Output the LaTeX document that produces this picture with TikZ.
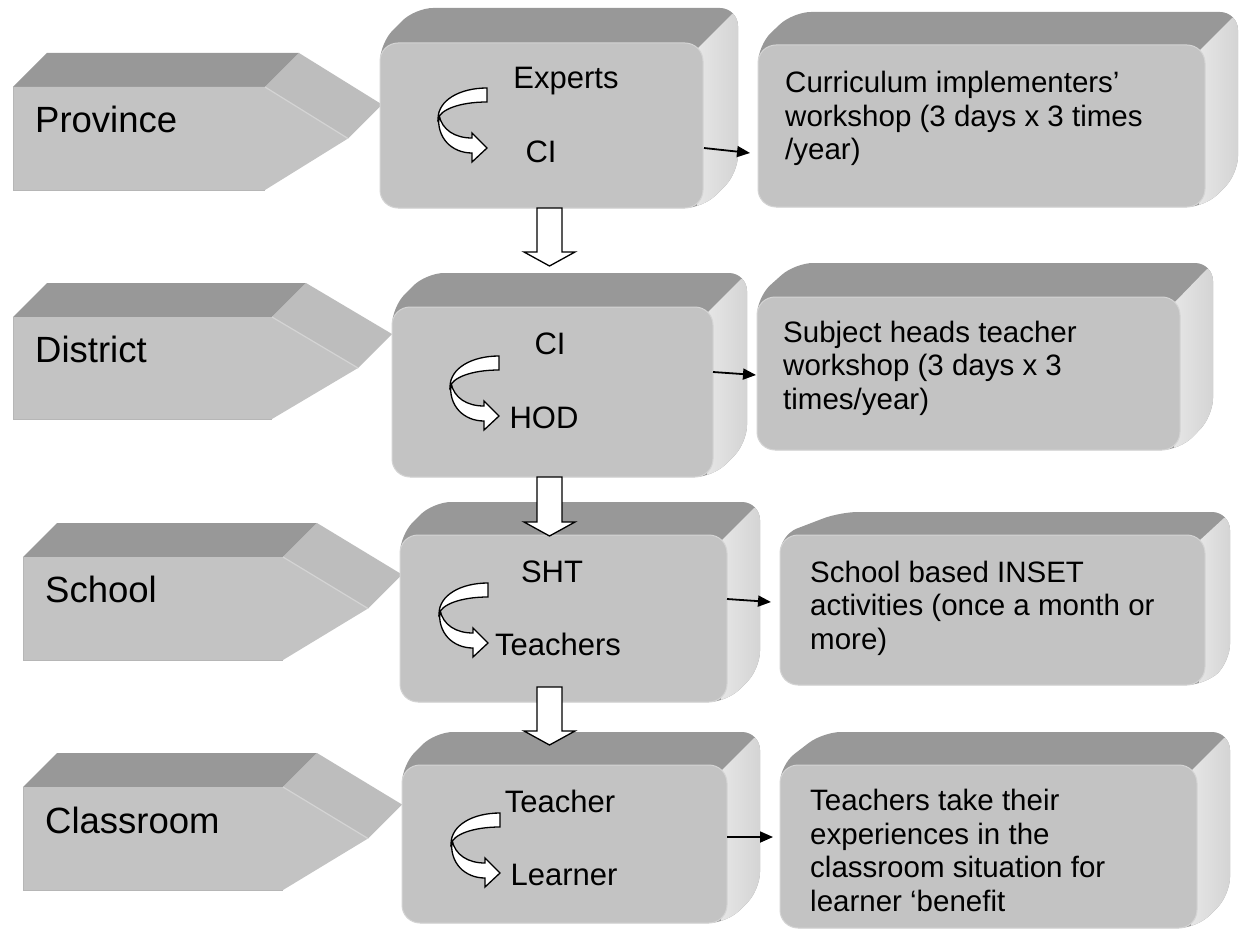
\documentclass[tikz,border=0pt]{standalone}
\usepackage{fontspec}
\setmainfont{Liberation Sans}
\usetikzlibrary{arrows.meta,calc}

\definecolor{faceGray}{RGB}{195,195,195}
\definecolor{topGray}{RGB}{152,152,152}
\definecolor{sideLight}{RGB}{230,230,230}
\definecolor{sideDark}{RGB}{210,210,210}
\definecolor{wedgeGray}{RGB}{189,189,189}
\definecolor{rimGray}{RGB}{212,212,212}
\definecolor{edgeGray}{RGB}{182,182,182}

\tikzset{
  levelname/.style={inner sep=0pt, anchor=base west, font=\fontsize{36.5}{43}\selectfont},
  rolename/.style={inner sep=0pt, anchor=base, font=\fontsize{31}{37}\selectfont},
  % multi-line notes: the base anchor sits on the last line
  notetext/.style={inner sep=0pt, anchor=base west, align=left, font=\fontsize{29.5}{33.5}\selectfont},
  linkarrow/.style={line width=1.8pt, -{Triangle[length=13pt,width=11pt]}},
  blockarr/.style={draw=black, fill=white, line width=1.3pt, line join=miter},
  turnline/.style={draw=black, fill=white, line width=1.3pt, line join=miter},
  turnarrow/.pic={
    % lower band ending in the arrow head
    \path[turnline] (-48,27) .. controls (-51,50) and (-35,65) .. (-15,65)
      -- (-15,74) -- (0,60) -- (-15,45) -- (-15,50)
      .. controls (-32,50) and (-45,42) .. (-48,27) -- cycle;
    % upper band folding over
    \path[turnline] (0,0) .. controls (-27,0) and (-49,12) .. (-49,31)
      .. controls (-47,22) and (-28,14) .. (0,14) -- cycle;
  }
}

% extruded rounded slab: front x1,y1,x2,y2; back shift left dx, right dx, dy
\newcommand\slab[7]{%
  \fill[topGray, rounded corners=18] (#1,#4) -- (#1,#2) -- (#1+#5,#2-#7)
     -- (#3+#6,#2-#7) -- (#3+#6,#4-#7) -- (#3,#4) -- cycle;
  \begin{scope}
    \clip[rounded corners=18] (#1,#4) -- (#1,#2) -- (#1+#5,#2-#7)
       -- (#3+#6,#2-#7) -- (#3+#6,#4-#7) -- (#3,#4) -- cycle;
    \shade[left color=sideLight, right color=sideDark]
       (#3-6,#2+6) -- (#3+#6-6,#2-#7+6) -- (#3+#6+4,#2-#7+6)
       -- (#3+#6+4,#4+4) -- (#3-6,#4+4) -- cycle;
  \end{scope}
  \fill[faceGray, rounded corners=18] (#1,#2) rectangle (#3,#4);
  \draw[rimGray, line width=1pt, rounded corners=18] (#1,#2) rectangle (#3,#4);
}

% extruded pentagon: front x1,y1,x2,y2, point x, depth
\newcommand\wedgebox[6]{%
  \fill[topGray] (#1,#2) -- (#1+#6,#2-#6) -- (#3+#6,#2-#6) -- (#3,#2) -- cycle;
  \fill[wedgeGray] (#3,#2) -- (#3+#6,#2-#6) -- (#5+#6,{(#2+#4)/2-#6})
     -- (#5,{(#2+#4)/2}) -- cycle;
  \fill[faceGray] (#1,#2) -- (#3,#2) -- (#5,{(#2+#4)/2}) -- (#3,#4) -- (#1,#4) -- cycle;
  \draw[edgeGray, line width=0.8pt] (#1,#2) -- (#1,#4) -- (#3,#4);
  \draw[rimGray, line width=1.2pt] (#3,#2) -- (#5,{(#2+#4)/2});
}

% white block arrow pointing down, from a foot point to a tip point
\newcommand\blockdown[2]{%
  \path[blockarr] let \p1=(#1), \p2=(#2) in
    (\x1-12.5pt,\y1) -- (\x1+12.5pt,\y1) -- (\x1+12.5pt,\y2+14pt)
    -- (\x1+25.5pt,\y2+14pt) -- (\x2,\y2) -- (\x1-25.5pt,\y2+14pt)
    -- (\x1-12.5pt,\y2+14pt) -- cycle;
}

\begin{document}
\begin{tikzpicture}[x=1pt,y=-1pt]
\useasboundingbox (0,0) rectangle (1241,936);
\fill[white] (0,0) rectangle (1241,936);

% ---- level wedges ----
\wedgebox{13}{87}{265}{190}{348}{34}
\wedgebox{13}{317}{272}{419}{358}{34}
\wedgebox{23}{557}{283}{660}{368}{34}
\wedgebox{23}{787}{283}{890}{368}{34}
\node[levelname] (province) at (35,133) {Province};
\node[levelname] (district) at (35,362) {District};
\node[levelname] (school) at (45,602) {School};
\node[levelname] (classroom) at (45,833) {Classroom};

% ---- cascade slabs ----
\slab{380}{43}{703}{208}{35}{35}{35}
\slab{392}{307}{713}{477}{34}{34}{34}
\slab{400}{535}{727}{702}{33}{33}{33}
\slab{402}{765}{727}{923}{33}{33}{33}

% ---- activity slabs ----
\slab{758}{45}{1205}{207}{35}{33}{33}
\slab{757}{297}{1180}{450}{38}{33}{34}
\slab{780}{535}{1205}{685}{60}{25}{23}
\slab{780}{765}{1197}{928}{43}{33}{33}

% ---- who trains whom ----
\node[rolename] (experts) at (566,89) {Experts};
\node[rolename] (ci1) at (541,163) {CI};
\node[rolename] (ci2) at (550,354) {CI};
\node[rolename] (hod) at (544,428) {HOD};
\node[rolename] (sht) at (552,582) {SHT};
\node[rolename] (teachers) at (558,655) {Teachers};
\node[rolename] (teacher) at (560,812) {Teacher};
\node[rolename] (learner) at (564,885) {Learner};

\pic at (487,88) {turnarrow};
\pic at (499,356) {turnarrow};
\pic at (488,583) {turnarrow};
\pic at (500,813) {turnarrow};

% ---- activities (positioned by their last baseline) ----
\node[notetext] (ciwork) at (785,160)
  {Curriculum implementers’\\workshop (3 days x 3 times\\/year)};
\node[notetext] (shtwork) at (783,409)
  {Subject heads teacher\\workshop (3 days x 3\\times/year)};
\node[notetext] (inset) at (810,649)
  {School based INSET\\activities (once a month or\\more)};
\node[notetext] (benefit) at (810,911)
  {Teachers take their\\experiences in the\\classroom situation for\\learner ‘benefit};

% ---- links to activities ----
\coordinate (out1) at (704,148);  \coordinate (in1) at (750,153);
\coordinate (out2) at (713,372);  \coordinate (in2) at (756,375);
\coordinate (out3) at (727,599);  \coordinate (in3) at (771,602);
\coordinate (out4) at (727,837);  \coordinate (in4) at (773,837);
\draw[linkarrow] (out1) -- (in1);
\draw[linkarrow] (out2) -- (in2);
\draw[linkarrow] (out3) -- (in3);
\draw[linkarrow] (out4) -- (in4);

% ---- cascade arrows ----
\coordinate (foot1) at (549.5,208); \coordinate (tip1) at (549.5,266);
\coordinate (foot2) at (549.5,477); \coordinate (tip2) at (549.5,536);
\coordinate (foot3) at (549.5,687); \coordinate (tip3) at (549.5,745);
\blockdown{foot1}{tip1}
\blockdown{foot2}{tip2}
\blockdown{foot3}{tip3}
\end{tikzpicture}
\end{document}
